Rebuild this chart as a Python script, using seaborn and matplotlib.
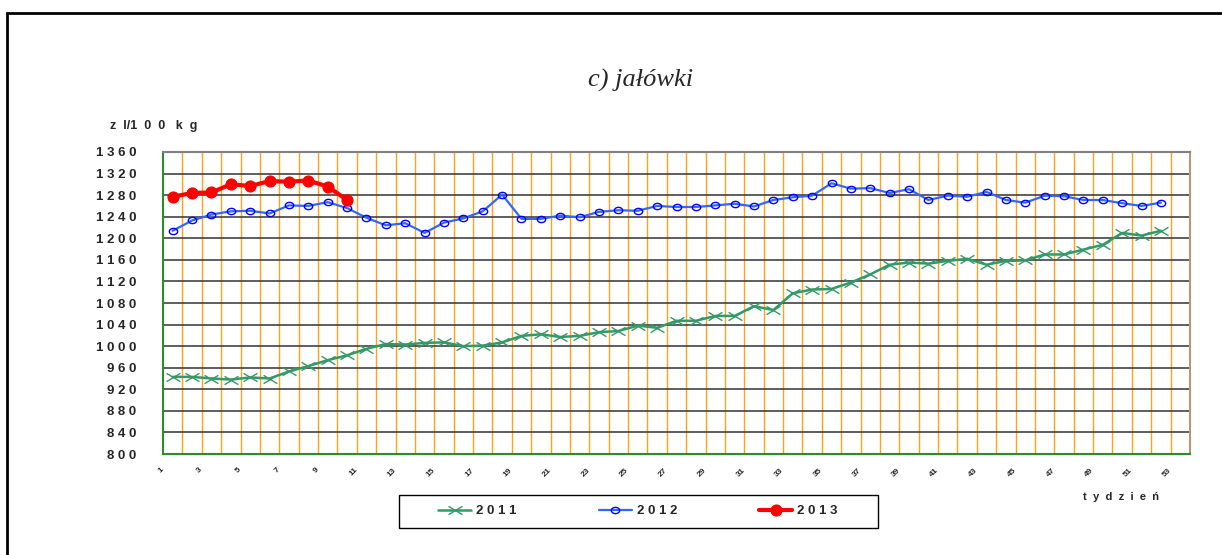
import numpy as np
import pandas as pd
import matplotlib
matplotlib.use("Agg")
import matplotlib.pyplot as plt
import matplotlib.transforms as mtrans
from matplotlib.patches import Rectangle
from matplotlib.path import Path
import seaborn as sns

# ceny jalowek, zl/100 kg, tygodniowo
weeks_2011 = list(range(1, 53))
prices_2011 = [943, 943, 940, 938, 942, 940, 953, 963, 974, 983,
               995, 1004, 1003, 1006, 1007, 1000, 1001, 1007, 1019, 1022,
               1017, 1019, 1026, 1028, 1038, 1034, 1047, 1047, 1056, 1056,
               1074, 1067, 1098, 1105, 1106, 1118, 1133, 1151, 1155, 1153,
               1158, 1162, 1151, 1158, 1159, 1170, 1170, 1179, 1188, 1210,
               1205, 1214]
weeks_2012 = list(range(1, 53))
prices_2012 = [1214, 1233, 1244, 1250, 1251, 1246, 1261, 1260, 1267, 1256,
               1238, 1224, 1228, 1210, 1229, 1237, 1250, 1281, 1236, 1236,
               1242, 1239, 1249, 1252, 1251, 1260, 1258, 1258, 1261, 1264,
               1259, 1271, 1276, 1279, 1302, 1292, 1293, 1284, 1291, 1271,
               1279, 1277, 1286, 1271, 1266, 1279, 1278, 1271, 1271, 1265,
               1260, 1266]
weeks_2013 = list(range(1, 11))
prices_2013 = [1277, 1284, 1285, 1300, 1297, 1306, 1305, 1307, 1296, 1271]

n_weeks = 53
y_ticks = list(range(800, 1361, 40))
x_labels = list(range(1, 54, 2))

def spaced(s):
    return " ".join(str(s))

# splaszczone znaczniki jak w excelu
flat_x = Path([(-1, -0.6), (1, 0.6), (-1, 0.6), (1, -0.6)],
              [Path.MOVETO, Path.LINETO, Path.MOVETO, Path.LINETO])
circ = Path.unit_circle()
flat_o = Path(circ.vertices * [1, 0.75], circ.codes)

sns.set_style("white")
plt.rcParams["font.family"] = ["Liberation Sans", "DejaVu Sans"]

fig = plt.figure(figsize=(12.22, 5.55), dpi=100)
ax = fig.add_axes([163/1222, 1-454/555, 1027/1222, 302/555])

sns.lineplot(x=weeks_2011, y=prices_2011, ax=ax, color="#339966", lw=1.8,
             marker=flat_x, ms=10, mew=1.0, mec="#339966", label=spaced("2011"))
sns.lineplot(x=weeks_2012, y=prices_2012, ax=ax, color="#3366FF", lw=1.6,
             marker=flat_o, ms=6, mew=1.0, mec="#0000FF", mfc="none",
             label=spaced("2012"))
sns.lineplot(x=weeks_2013, y=prices_2013, ax=ax, color="#FF0000", lw=3,
             marker="o", ms=8, mec="#FF0000", mfc="#FF0000",
             label=spaced("2013"))

ax.set_xlim(0.5, n_weeks + 0.5)
ax.set_ylim(800, 1360)

# siatka
bounds = np.arange(1.5, n_weeks + 0.5, 1)
for b in bounds:
    ax.axvline(b, color="#FFA31A", lw=1, zorder=0)
for v in y_ticks[1:-1]:
    ax.axhline(v, color="#333333", lw=1.1, zorder=0)

ax.set_yticks(y_ticks)
ax.set_yticklabels([spaced(v) for v in y_ticks], fontsize=9.5,
                   fontweight="bold")
ax.tick_params(axis="y", length=5, color="#2E8B2E", width=1, pad=14)

ax.set_xticks(x_labels)
ax.set_xticklabels([str(v) for v in x_labels], fontsize=6,
                   fontweight="bold", rotation=45, ha="right", va="top",
                   rotation_mode="anchor")
ax.tick_params(axis="x", length=0, pad=9)
shift = mtrans.ScaledTranslation(-9/72, 0, fig.dpi_scale_trans)
for lab in ax.get_xticklabels():
    lab.set_transform(lab.get_transform() + shift)
ax.set_xticks(np.arange(0.5, n_weeks + 1, 1), minor=True)
ax.tick_params(axis="x", which="minor", length=3, color="#2E8B2E", width=1)

for side in ["left", "bottom"]:
    ax.spines[side].set_color("#2E8B2E")
    ax.spines[side].set_linewidth(1.5)
ax.spines["top"].set_color("#808080")
ax.spines["top"].set_linewidth(1.5)
ax.spines["right"].set_color("#B09A78")
ax.spines["right"].set_linewidth(1.5)
ax.set_xlabel("")
ax.set_ylabel("")

# opisy
fig.text(641/1222, 1-80/555, "c) jałówki", ha="center", va="center",
         fontsize=19, fontstyle="italic", family=["Liberation Serif", "DejaVu Serif"])
fig.text(110/1222, 1-126/555, "z  l/1  0  0   k  g", ha="left", va="center",
         fontsize=9, fontweight="bold")
fig.text(1083/1222, 1-497/555, "t  y  d  z  i  e  ń", ha="left", va="center",
         fontsize=8, fontweight="bold")

# legenda
ax.get_legend().remove()
handles, labels = ax.get_legend_handles_labels()
fig.patches.append(Rectangle((399/1222, 1-528/555), 479/1222, 33/555,
                             transform=fig.transFigure, fill=False,
                             edgecolor="black", lw=1))
leg = fig.legend(handles, labels, loc="center", ncol=3,
                 bbox_to_anchor=(638/1222, 1-511/555), frameon=False,
                 handlelength=2.5, handletextpad=0.4, columnspacing=6.2,
                 prop={"size": 9.5, "weight": "bold"})

# ramka
fig.patches.append(Rectangle((7.5/1222, -0.1), 1.2, 1-13/555+0.1,
                             transform=fig.transFigure, fill=False,
                             edgecolor="black", lw=2))

fig.savefig("out.png", dpi=100)
